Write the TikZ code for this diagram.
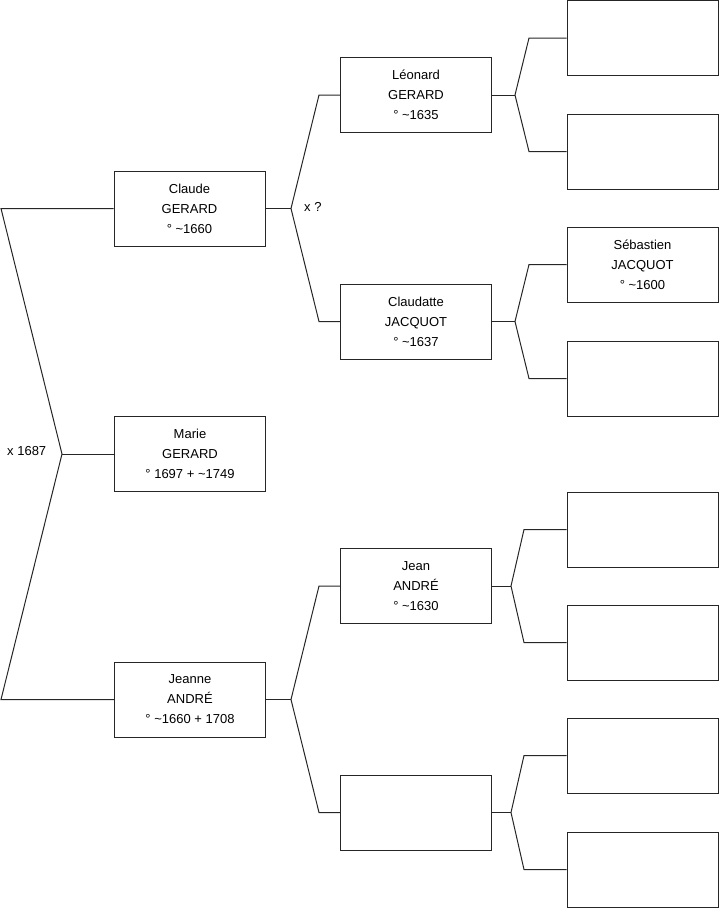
\documentclass[tikz,border=0pt]{standalone}
\usepackage{fontspec}
\setmainfont{Liberation Sans}
\begin{document}
\begin{tikzpicture}[x=1pt,y=-1pt,
  person/.style={draw=black!85,line width=1pt,minimum width=151pt,minimum height=75pt,inner sep=0pt,align=center,font=\fontsize{13}{20}\selectfont},
  link/.style={draw=black!85,line width=1pt},
  lbl/.style={font=\fontsize{13}{15}\selectfont,inner sep=0pt}]
\useasboundingbox (0,0) rectangle (719,908);
% generation 1
\node[person] (claude) at (189.5,208.5) {Claude\\GERARD\\° \textasciitilde1660};
\node[person] (marie) at (190,454) {Marie\\GERARD\\° 1697 + \textasciitilde1749};
\node[person] (jeanne) at (190,699.5) {Jeanne\\ANDRÉ\\° \textasciitilde1660 + 1708};
% generation 2
\node[person] (leonard) at (416,95) {Léonard\\GERARD\\° \textasciitilde1635};
\node[person] (claudatte) at (416,321.5) {Claudatte\\JACQUOT\\° \textasciitilde1637};
\node[person] (jean) at (416,586) {Jean\\ANDRÉ\\° \textasciitilde1630};
\node[person] (e4) at (416,812.5) {};
% generation 3
\node[person] (r1) at (642.5,38) {};
\node[person] (r2) at (642.5,151.5) {};
\node[person] (seb) at (642.5,264.5) {Sébastien\\JACQUOT\\° \textasciitilde1600};
\node[person] (r4) at (642.5,378.5) {};
\node[person] (r5) at (642.5,529.5) {};
\node[person] (r6) at (642.5,642.5) {};
\node[person] (r7) at (642.5,755.5) {};
\node[person] (r8) at (642.5,869.5) {};
% fork coordinates
\coordinate (f0) at (62,454);
\coordinate (f0a) at (1,208.5);
\coordinate (f0b) at (1,699.5);
\coordinate (f1) at (291,208.5);
\coordinate (f1a) at (319,95);
\coordinate (f1b) at (319,321.5);
\coordinate (f2) at (291,699.5);
\coordinate (f2a) at (319,586);
\coordinate (f2b) at (319,812.5);
\coordinate (g1) at (515,95);
\coordinate (g1a) at (529,38);
\coordinate (g1b) at (529,151.5);
\coordinate (g2) at (515,321.5);
\coordinate (g2a) at (529,264.5);
\coordinate (g2b) at (529,378.5);
\coordinate (g3) at (511,586);
\coordinate (g3a) at (524,529.5);
\coordinate (g3b) at (524,642.5);
\coordinate (g4) at (511,812.5);
\coordinate (g4a) at (524,755.5);
\coordinate (g4b) at (524,869.5);
% connectors
\draw[link] (marie.west) -- (f0);
\draw[link] (claude.west) -- (f0a) -- (f0) -- (f0b) -- (jeanne.west);
\draw[link] (claude.east) -- (f1);
\draw[link] (leonard.west) -- (f1a) -- (f1) -- (f1b) -- (claudatte.west);
\draw[link] (jeanne.east) -- (f2);
\draw[link] (jean.west) -- (f2a) -- (f2) -- (f2b) -- (e4.west);
\draw[link] (leonard.east) -- (g1);
\draw[link] (r1.west) -- (g1a) -- (g1) -- (g1b) -- (r2.west);
\draw[link] (claudatte.east) -- (g2);
\draw[link] (seb.west) -- (g2a) -- (g2) -- (g2b) -- (r4.west);
\draw[link] (jean.east) -- (g3);
\draw[link] (r5.west) -- (g3a) -- (g3) -- (g3b) -- (r6.west);
\draw[link] (e4.east) -- (g4);
\draw[link] (r7.west) -- (g4a) -- (g4) -- (g4b) -- (r8.west);
% labels
\node[lbl,anchor=west] (m0) at (7,451) {x 1687};
\node[lbl,anchor=west] (m1) at (304,207) {x ?};
\end{tikzpicture}
\end{document}
